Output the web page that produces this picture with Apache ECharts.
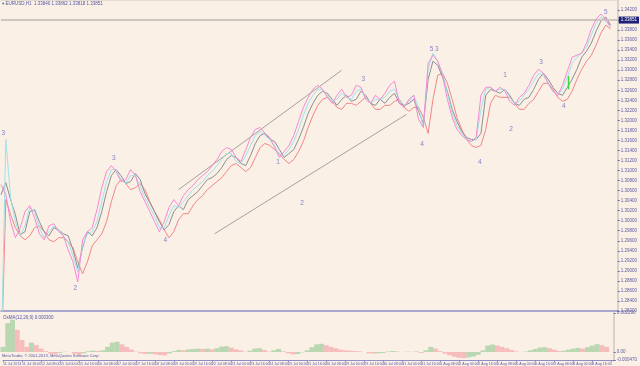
<!DOCTYPE html>
<html><head><meta charset="utf-8">
<script src="https://cdn.jsdelivr.net/npm/echarts@6/dist/echarts.min.js"></script>
<style>html,body{margin:0;padding:0;background:#FAF0E6;}#c{width:640px;height:366px;}</style>
</head><body><div id="c"></div>
<script>
// ---- data (H1 EURUSD, one point every 4 bars) ----
const hoursPerPoint = 4;
const tickLabels = ['11 Jul 2013','11 Jul 16:00','12 Jul 08:00','15 Jul 00:00','15 Jul 16:00','16 Jul 08:00','17 Jul 00:00','17 Jul 16:00','18 Jul 08:00','19 Jul 00:00','19 Jul 16:00','22 Jul 08:00','23 Jul 00:00','23 Jul 16:00','24 Jul 08:00','25 Jul 00:00','25 Jul 16:00','26 Jul 08:00','29 Jul 00:00','29 Jul 16:00','30 Jul 08:00','31 Jul 00:00','31 Jul 16:00','1 Aug 08:00','2 Aug 00:00','2 Aug 16:00','5 Aug 08:00','6 Aug 00:00','6 Aug 16:00','7 Aug 08:00','8 Aug 00:00','8 Aug 16:00'];
const priceLabelsEvery = 0.002;

const grayLine = [1.3052,1.3076,1.3042,1.3012,1.2972,1.2978,1.3018,1.3022,1.2998,1.2978,1.2970,1.2986,1.2982,1.2974,1.2970,1.2942,1.2906,1.2946,1.2978,1.2970,1.2986,1.3018,1.3058,1.3090,1.3102,1.3090,1.3074,1.3078,1.3094,1.3082,1.3054,1.3036,1.3018,1.2998,1.2982,1.2992,1.3018,1.3030,1.3022,1.3042,1.3050,1.3058,1.3070,1.3082,1.3086,1.3094,1.3106,1.3122,1.3130,1.3126,1.3114,1.3110,1.3130,1.3154,1.3170,1.3174,1.3162,1.3158,1.3142,1.3126,1.3134,1.3142,1.3162,1.3186,1.3214,1.3234,1.3250,1.3258,1.3254,1.3242,1.3230,1.3242,1.3250,1.3238,1.3242,1.3258,1.3250,1.3234,1.3230,1.3242,1.3234,1.3246,1.3254,1.3234,1.3230,1.3234,1.3242,1.3218,1.3194,1.3282,1.3318,1.3310,1.3286,1.3258,1.3222,1.3198,1.3178,1.3166,1.3162,1.3162,1.3174,1.3250,1.3262,1.3258,1.3254,1.3262,1.3250,1.3234,1.3230,1.3242,1.3246,1.3262,1.3282,1.3294,1.3282,1.3266,1.3254,1.3250,1.3266,1.3282,1.3302,1.3326,1.3338,1.3354,1.3378,1.3398,1.3406,1.3390];
const pinkLine = [1.3072,1.3052,1.2998,1.2966,1.2986,1.3018,1.3030,1.3006,1.2974,1.2962,1.2990,1.2994,1.2978,1.2970,1.2942,1.2918,1.2878,1.2962,1.2978,1.2986,1.3022,1.3066,1.3098,1.3110,1.3098,1.3078,1.3082,1.3102,1.3090,1.3058,1.3038,1.3018,1.2998,1.2978,1.2998,1.3026,1.3042,1.3030,1.3050,1.3062,1.3070,1.3082,1.3090,1.3098,1.3110,1.3122,1.3138,1.3146,1.3142,1.3126,1.3118,1.3142,1.3166,1.3182,1.3186,1.3174,1.3166,1.3146,1.3126,1.3138,1.3150,1.3170,1.3198,1.3226,1.3246,1.3262,1.3270,1.3262,1.3246,1.3234,1.3250,1.3262,1.3246,1.3250,1.3270,1.3266,1.3242,1.3234,1.3250,1.3242,1.3254,1.3270,1.3278,1.3234,1.3226,1.3242,1.3250,1.3202,1.3186,1.3314,1.3330,1.3318,1.3290,1.3242,1.3206,1.3182,1.3170,1.3162,1.3158,1.3166,1.3250,1.3266,1.3266,1.3258,1.3266,1.3258,1.3238,1.3230,1.3246,1.3254,1.3270,1.3290,1.3302,1.3294,1.3274,1.3258,1.3250,1.3270,1.3298,1.3326,1.3330,1.3334,1.3354,1.3382,1.3402,1.3412,1.3402,1.3386];
const cyanLine = [1.2700,1.3162,1.3046,1.2998,1.2970,1.2990,1.3026,1.3018,1.2986,1.2966,1.2978,1.2990,1.2982,1.2970,1.2958,1.2930,1.2898,1.2950,1.2974,1.2978,1.2998,1.3038,1.3078,1.3102,1.3102,1.3082,1.3074,1.3090,1.3090,1.3070,1.3046,1.3026,1.3010,1.2986,1.2986,1.3010,1.3030,1.3026,1.3038,1.3050,1.3062,1.3070,1.3078,1.3090,1.3098,1.3110,1.3122,1.3134,1.3134,1.3118,1.3114,1.3130,1.3150,1.3170,1.3178,1.3170,1.3162,1.3150,1.3130,1.3130,1.3142,1.3158,1.3182,1.3210,1.3234,1.3250,1.3262,1.3262,1.3250,1.3238,1.3242,1.3254,1.3246,1.3242,1.3258,1.3262,1.3246,1.3234,1.3242,1.3242,1.3246,1.3258,1.3262,1.3242,1.3230,1.3238,1.3250,1.3226,1.3186,1.3302,1.3334,1.3318,1.3294,1.3254,1.3214,1.3190,1.3174,1.3162,1.3158,1.3162,1.3222,1.3262,1.3266,1.3258,1.3262,1.3262,1.3246,1.3234,1.3238,1.3250,1.3262,1.3278,1.3294,1.3290,1.3274,1.3258,1.3250,1.3262,1.3286,1.3314,1.3326,1.3334,1.3346,1.3370,1.3394,1.3406,1.3398,1.3386];
const redLine = [1.2700,1.3042,1.3012,1.2986,1.2970,1.2962,1.2970,1.2986,1.2990,1.2978,1.2962,1.2958,1.2966,1.2966,1.2958,1.2946,1.2918,1.2894,1.2918,1.2950,1.2962,1.2974,1.2998,1.3038,1.3070,1.3082,1.3074,1.3062,1.3066,1.3074,1.3062,1.3038,1.3018,1.3002,1.2982,1.2966,1.2978,1.3002,1.3014,1.3014,1.3030,1.3042,1.3050,1.3062,1.3070,1.3078,1.3086,1.3098,1.3110,1.3114,1.3106,1.3098,1.3106,1.3126,1.3146,1.3154,1.3150,1.3142,1.3134,1.3122,1.3114,1.3122,1.3138,1.3158,1.3186,1.3210,1.3230,1.3242,1.3246,1.3238,1.3226,1.3222,1.3234,1.3234,1.3230,1.3238,1.3246,1.3234,1.3222,1.3222,1.3230,1.3230,1.3238,1.3242,1.3226,1.3218,1.3226,1.3226,1.3206,1.3174,1.3242,1.3290,1.3294,1.3274,1.3242,1.3206,1.3182,1.3162,1.3150,1.3146,1.3150,1.3182,1.3234,1.3250,1.3246,1.3246,1.3246,1.3234,1.3222,1.3222,1.3234,1.3242,1.3258,1.3274,1.3274,1.3262,1.3246,1.3238,1.3242,1.3258,1.3282,1.3302,1.3318,1.3330,1.3350,1.3374,1.3390,1.3382];
const osma = [0.0003,0.0017,0.0019,0.0013,0.0007,0.0003,0.00055,0.0004,0.0002,0.00005,-0.0001,-0.00015,-0.00005,0.00002,0.0,-0.0001,-0.00018,-0.00008,0.00005,0.00008,0.00006,0.0001,0.0003,0.00055,0.0006,0.00045,0.0003,0.00015,0.00002,-0.00008,-0.00012,-0.0001,-0.00014,-0.00018,-0.0002,-0.00008,0.00005,0.00012,0.0001,0.00015,0.00018,0.0002,0.00018,0.0002,0.00016,0.00022,0.00032,0.00034,0.00026,0.00016,0.0001,0.00002,0.00008,0.0002,0.00022,0.00012,0.00002,0.0001,0.00018,0.00004,-0.00008,-0.00014,-0.00012,-0.00002,0.0001,0.00028,0.00045,0.00048,0.0004,0.0003,0.00022,0.00014,0.0001,0.00008,0.00006,0.00004,0.0,-0.00008,-0.0001,-0.00008,-0.00006,0.00003,0.00006,0.00003,0.0,0.00002,0.00001,0.00003,-0.00006,0.0001,0.0003,0.0002,0.00005,-0.0001,-0.0002,-0.00028,-0.00034,-0.00036,-0.00032,-0.00026,-0.00016,0.0001,0.00038,0.00044,0.00038,0.0003,0.00022,0.00012,0.00004,0.0,0.00003,0.0001,0.00018,0.00026,0.00028,0.00022,0.00014,0.00006,0.00008,0.00014,0.0002,0.00024,0.0002,0.00028,0.00038,0.00046,0.0004,0.0003];
const greenMarkHour = 473, greenMarkPrices = [1.3288, 1.3262];
const trendUpper = [[148, 1.3062], [284, 1.3300]];
const trendLower = [[178, 1.2974], [338, 1.3212]];
const waveText  = ['3','2','3','4','1','2','3','4','5 3','4','1','2','3','4','5'];
const waveHour  = [2, 62, 94, 137, 231, 251, 302, 351, 361, 399, 420, 425, 450, 469, 504];
const wavePrice = [1.3174,1.2866,1.3124,1.2962,1.3116,1.3034,1.3282,1.3152,1.3342,1.3116,1.3290,1.3182,1.3316,1.3228,1.3416];
const header = 'EURUSD,H1  1.33840 1.33862 1.33818 1.33851';
const lastPrice = 1.33851;
const osmaName = 'OsMA(12,26,9) 0.000300';
const copyright = 'MetaTrader, © 2001-2013, MetaQuotes Software Corp.';

// ---- build ----
const pairs = arr => arr.map((v, i) => [i * hoursPerPoint, v]);
const osmaData = osma.map((v, i) => ({
  value: [i * hoursPerPoint, v],
  itemStyle: { color: (i === 0 || v > osma[i - 1]) ? '#B9D7B1' : '#F7BDBD' }
}));
const font = 'Liberation Sans, DejaVu Sans, sans-serif';
const axisTxt = '#5B5BA3';

const chart = echarts.init(document.getElementById('c'), null, { renderer: 'canvas' });
const lineS = (data, color, z) => ({
  type: 'line', xAxisIndex: 0, yAxisIndex: 0, data: pairs(data), showSymbol: false, symbol: 'none',
  lineStyle: { color, width: 1 }, z, animation: false, clip: true
});
chart.setOption({
  backgroundColor: '#FAF0E6',
  animation: false,
  textStyle: { fontFamily: font },
  grid: [
    { left: 1, top: 0, width: 625, height: 311 },
    { left: 1, top: 313, width: 625, height: 47 }
  ],
  xAxis: [
    { type: 'value', gridIndex: 0, min: 0, max: 514, position: 'bottom',
      axisLine: { show: true, onZero: false, lineStyle: { color: '#8E8EC6', width: 1.5 } },
      axisTick: { show: false }, axisLabel: { show: false }, splitLine: { show: false } },
    { type: 'value', gridIndex: 1, min: 0, max: 514, interval: 16, position: 'bottom',
      axisLine: { show: true, onZero: false, lineStyle: { color: '#8E8EC6', width: 1 } },
      axisTick: { show: true, length: 2, lineStyle: { color: '#8E8EC6' } },
      axisLabel: { show: true, fontSize: 3.6, color: axisTxt, margin: 1.5, align: 'left',
        hideOverlap: false, showMaxLabel: false, formatter: v => tickLabels[Math.round(v / 16)] || '' },
      splitLine: { show: false } },
    { type: 'value', gridIndex: 0, min: 0, max: 514, position: 'top',
      axisLine: { show: true, onZero: false, lineStyle: { color: '#DDD4CA', width: 1.5 } },
      axisTick: { show: false }, axisLabel: { show: false }, splitLine: { show: false } }
  ],
  yAxis: [
    { type: 'value', gridIndex: 0, position: 'right', min: 1.282, max: 1.344, interval: priceLabelsEvery,
      axisLine: { show: true, onZero: false, lineStyle: { color: '#DAD2C8', width: 2 } },
      axisTick: { show: true, inside: false, length: 2, lineStyle: { color: '#6A6AA8' } },
      axisLabel: { fontSize: 4.5, color: axisTxt, margin: 3, showMaxLabel: false, formatter: v => v.toFixed(5) },
      splitLine: { show: false } },
    { type: 'value', gridIndex: 1, position: 'right', min: -0.00047, max: 0.00229,
      axisLine: { show: true, onZero: false, lineStyle: { color: '#DAD2C8', width: 2 } },
      axisTick: { show: true, length: 2, customValues: [-0.00047, 0, 0.00229], lineStyle: { color: '#6A6AA8' } },
      axisLabel: { fontSize: 4.5, color: axisTxt, margin: 3, customValues: [-0.00047, 0, 0.00229],
        formatter: v => v === 0 ? '0.00' : v.toFixed(6) },
      splitLine: { show: false } }
  ],
  series: [
    { type: 'line', xAxisIndex: 0, yAxisIndex: 0, data: trendUpper, symbol: 'none',
      lineStyle: { color: '#A8A29C', width: 1 }, z: 1 },
    { type: 'line', xAxisIndex: 0, yAxisIndex: 0, data: trendLower, symbol: 'none',
      lineStyle: { color: '#A8A29C', width: 1 }, z: 1 },
    lineS(redLine, '#F28686', 2),
    lineS(grayLine, '#8F8F8F', 3),
    lineS(cyanLine, '#9FE2EA', 4),
    lineS(pinkLine, '#F48AD6', 5),
    { type: 'line', xAxisIndex: 0, yAxisIndex: 0, symbol: 'none', z: 6,
      data: greenMarkPrices.map(p => [greenMarkHour, p]), lineStyle: { color: '#3CD23C', width: 1.5 } },
    { type: 'line', xAxisIndex: 0, yAxisIndex: 0, data: [], symbol: 'none', z: 0,
      markLine: { silent: true, symbol: 'none', animation: false,
        lineStyle: { color: '#CEC7C0', width: 2, type: 'solid' },
        label: { show: true, position: 'end', formatter: lastPrice.toFixed(5), fontSize: 4.5, color: '#FFFFFF',
          backgroundColor: '#1F1F78', padding: [1, 2], distance: 1 },
        data: [{ yAxis: lastPrice }] } },
    { type: 'scatter', xAxisIndex: 0, yAxisIndex: 0, symbolSize: 0, z: 7,
      data: waveText.map((t, i) => ({ value: [waveHour[i], wavePrice[i]], name: t })),
      label: { show: true, position: 'inside', formatter: p => p.name, fontSize: 6.5, color: '#6666C8' } },
    { type: 'bar', xAxisIndex: 1, yAxisIndex: 1, data: osmaData, barWidth: 5, z: 2 }
  ],
  graphic: [
    { type: 'text', left: 2, top: 1, style: { text: '▾ ' + header, fontSize: 4.5, fill: '#5656A0', fontFamily: font } },
    { type: 'text', left: 3, top: 315, style: { text: osmaName, fontSize: 4.5, fill: '#5656A0', fontFamily: font } },
    { type: 'text', left: 2, top: 354, style: { text: copyright, fontSize: 4, fill: '#5656A0', fontFamily: font } }
  ]
});
</script></body></html>
